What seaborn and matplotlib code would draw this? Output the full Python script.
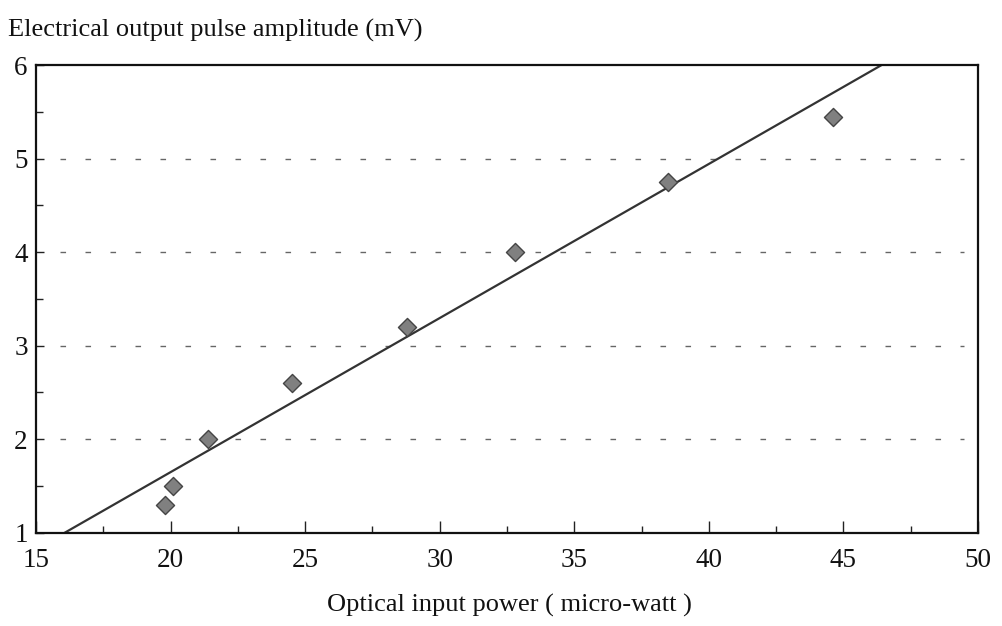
import matplotlib
matplotlib.use("Agg")
import matplotlib.pyplot as plt
import seaborn as sns
import numpy as np
import pandas as pd
from matplotlib.ticker import MultipleLocator

# Data
power_uw = [19.8, 20.1, 21.4, 24.5, 28.8, 32.8, 38.5, 44.6]
amplitude_mv = [1.3, 1.5, 2.0, 2.6, 3.2, 4.0, 4.75, 5.45]
x_ticks = [15, 20, 25, 30, 35, 40, 45, 50]
y_ticks = [1, 2, 3, 4, 5, 6]

df = pd.DataFrame({"power": power_uw, "amp": amplitude_mv})

sns.set_theme(style="white")
plt.rcParams["font.family"] = ["Liberation Serif", "DejaVu Serif"]

fig = plt.figure(figsize=(10.02, 6.26), dpi=100)
ax = fig.add_axes([0.036, 0.149, 0.940, 0.747])

ax.set_xlim(15, 50)
ax.set_ylim(1, 6)

# dashed horizontal grid
for yv in y_ticks[1:-1]:
    ax.axhline(yv, xmin=0.025, xmax=0.985, color="#666666", lw=1.0,
               dashes=(4, 14), zorder=1)

sns.regplot(data=df, x="power", y="amp", ax=ax, ci=None, truncate=False,
            marker="D",
            scatter_kws=dict(s=85, color="#808080", edgecolor="#444444",
                             linewidths=1.0, alpha=1, zorder=3),
            line_kws=dict(color="#333333", lw=1.6, zorder=2))

ax.set_xticks(x_ticks)
ax.set_yticks(y_ticks)
ax.xaxis.set_minor_locator(MultipleLocator(2.5))
ax.yaxis.set_minor_locator(MultipleLocator(0.5))
ax.tick_params(axis="both", which="both", bottom=True, left=True,
               top=False, right=False)
ax.tick_params(axis="both", which="major", direction="in", length=9,
               width=1.0, color="#222222", labelsize=19.5, labelcolor="#111111")
ax.tick_params(axis="both", which="minor", direction="in", length=5,
               width=1.0, color="#222222")
ax.tick_params(axis="y", which="major", pad=6, length=6)
ax.tick_params(axis="x", which="major", pad=11)

for s in ax.spines.values():
    s.set_visible(True)
    s.set_color("#111111")
    s.set_linewidth(1.6)

ax.set_xlabel("")
ax.set_ylabel("")
fig.text(0.508, 0.033, "Optical input power ( micro-watt )", ha="center",
         va="center", fontsize=19, color="#111111")
fig.text(0.008, 0.952, "Electrical output pulse amplitude (mV)", ha="left",
         va="center", fontsize=19, color="#111111")

fig.savefig("out.png", dpi=100, facecolor="white")
